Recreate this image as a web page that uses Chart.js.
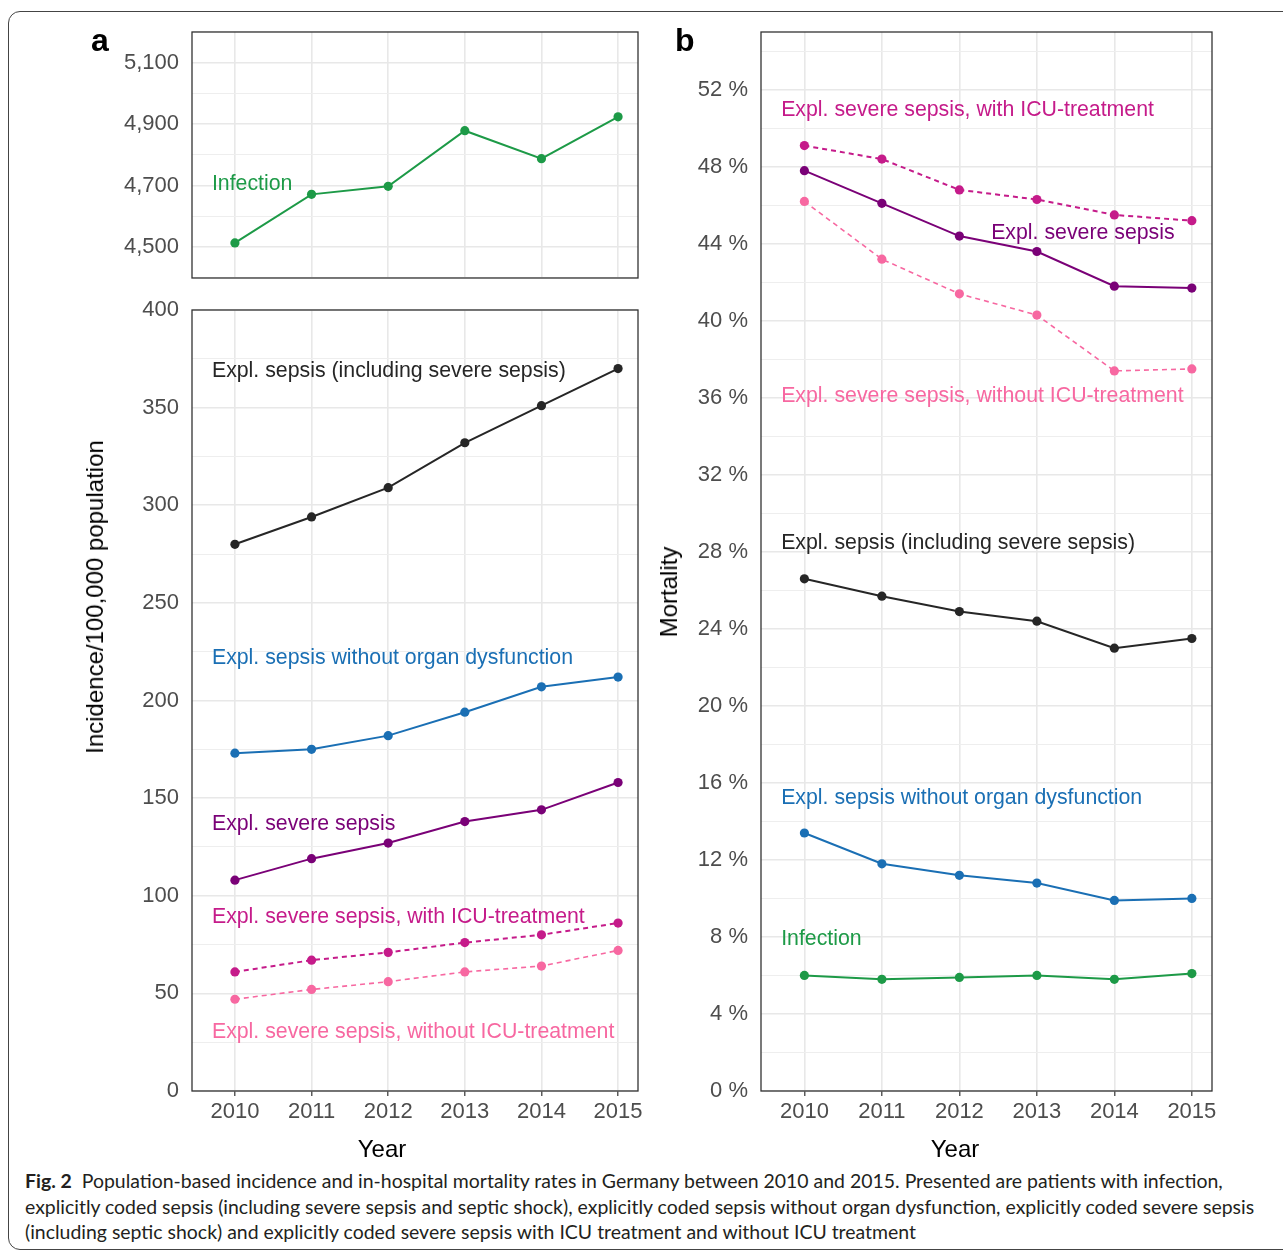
<!DOCTYPE html>
<html>
<head>
<meta charset="utf-8">
<script src="https://cdn.jsdelivr.net/npm/chart.js@4.4.0/dist/chart.umd.min.js"></script>
<style>
  body { margin: 0; background: #fff; width: 1283px; height: 1253px; overflow: hidden; position: relative;
         font-family: "Liberation Sans", Arial, sans-serif; }
  .frame { position: absolute; left: 8px; top: 11px; width: 1300px; height: 1239px; box-sizing: border-box;
           border: 1.4px solid #444; border-radius: 12px; }
  .box { position: absolute; }
  .txt { position: absolute; white-space: nowrap; }
  .title { font-size: 24px; color: #000; transform: translate(-50%, -50%); }
  .rot { font-size: 24px; color: #000; transform: translate(-50%, -50%) rotate(-90deg); }
  .panel { font-size: 32px; font-weight: bold; color: #000; }
  .cap { position: absolute; left: 25px; white-space: nowrap; font-family: Lato, "Noto Sans", sans-serif; color: #231f20; }
</style>
</head>
<body>
<div class="frame"></div>

<div class="box" style="left:100px;top:2px;width:560px;height:306px"><canvas id="chartA"></canvas></div>
<div class="box" style="left:100px;top:280px;width:560px;height:860px"><canvas id="chartB"></canvas></div>
<div class="box" style="left:660px;top:2px;width:623px;height:1138px"><canvas id="chartC"></canvas></div>

<div class="txt panel" style="left:91px;top:22px">a</div>
<div class="txt panel" style="left:675px;top:22px">b</div>
<div class="txt title" style="left:382px;top:1149px">Year</div>
<div class="txt title" style="left:955px;top:1149px">Year</div>
<div class="txt rot" style="left:95px;top:597px">Incidence/100,000 population</div>
<div class="txt rot" style="left:669px;top:592px">Mortality</div>

<div class="cap" id="cap1" style="top:1169px"><b>Fig. 2</b>&nbsp; Population-based incidence and in-hospital mortality rates in Germany between 2010 and 2015. Presented are patients with infection,</div>
<div class="cap" id="cap2" style="top:1195px">explicitly coded sepsis (including severe sepsis and septic shock), explicitly coded sepsis without organ dysfunction, explicitly coded severe sepsis</div>
<div class="cap" id="cap3" style="top:1220px">(including septic shock) and explicitly coded severe sepsis with ICU treatment and without ICU treatment</div>

<script>
const years = [2010, 2011, 2012, 2013, 2014, 2015];

// panel a, top: infection incidence per 100,000
const incInfection = [4514, 4672, 4698, 4879, 4788, 4924];
// panel a, bottom
const incSepsis = [280, 294, 309, 332, 351, 370];
const incNoOrgan = [173, 175, 182, 194, 207, 212];
const incSevere = [108, 119, 127, 138, 144, 158];
const incSevereIcu = [61, 67, 71, 76, 80, 86];
const incSevereNoIcu = [47, 52, 56, 61, 64, 72];
// panel b: in-hospital mortality (%)
const mortSevereIcu = [49.1, 48.4, 46.8, 46.3, 45.5, 45.2];
const mortSevere = [47.8, 46.1, 44.4, 43.6, 41.8, 41.7];
const mortSevereNoIcu = [46.2, 43.2, 41.4, 40.3, 37.4, 37.5];
const mortSepsis = [26.6, 25.7, 24.9, 24.4, 23.0, 23.5];
const mortNoOrgan = [13.4, 11.8, 11.2, 10.8, 9.9, 10.0];
const mortInfection = [6.0, 5.8, 5.9, 6.0, 5.8, 6.1];

const ticksA = [4500, 4700, 4900, 5100];
const ticksB = [0, 50, 100, 150, 200, 250, 300, 350, 400];
const ticksC = [0, 4, 8, 12, 16, 20, 24, 28, 32, 36, 40, 44, 48, 52];

const FONT = '"Liberation Sans", Arial, sans-serif';
const GREEN = '#1d9a47', BLACK = '#262626', BLUE = '#1a6fb4',
      PURPLE = '#7a0177', MAGENTA = '#c51b8a', PINK = '#f768a1';

function series(values, color, dashed, width) {
  return {
    data: values.map((v, i) => ({ x: years[i], y: v })),
    borderColor: color,
    backgroundColor: color,
    borderWidth: width || 2,
    borderDash: dashed ? [5, 4] : [],
    pointRadius: 4.6,
    pointBorderWidth: 0,
    pointBackgroundColor: color,
    tension: 0
  };
}

const framePlugin = {
  id: 'frame',
  afterDatasetsDraw(chart) {
    const { ctx, chartArea: a } = chart;
    ctx.save();
    ctx.strokeStyle = '#333';
    ctx.lineWidth = 1.3;
    ctx.strokeRect(a.left, a.top, a.width, a.height);
    ctx.restore();
  }
};

// text labels next to the lines, placed in data units
function tagPlugin(items) {
  return {
    id: 'tags',
    afterDatasetsDraw(chart) {
      const { ctx, scales: { x, y } } = chart;
      ctx.save();
      ctx.font = '21.3px ' + FONT;
      ctx.textAlign = 'left';
      ctx.textBaseline = 'alphabetic';
      items.forEach(t => {
        ctx.fillStyle = t.color;
        ctx.fillText(t.text, x.getPixelForValue(t.x), y.getPixelForValue(t.y) + 7.5);
      });
      ctx.restore();
    }
  };
}

function minors(major, min, max) {
  const step = major[1] - major[0];
  return major.map(v => v - step / 2).concat(major[major.length - 1] + step / 2)
    .filter(v => v >= min && v <= max);
}

function makeChart(id, cfg) {
  const all = cfg.ticks.concat(minors(cfg.ticks, cfg.min, cfg.max)).sort((a, b) => a - b);
  const isMajor = v => cfg.ticks.includes(v);
  return new Chart(id, {
    type: 'line',
    data: { datasets: cfg.datasets },
    options: {
      responsive: true,
      maintainAspectRatio: false,
      animation: false,
      layout: { padding: cfg.pad },
      plugins: { legend: { display: false }, tooltip: { enabled: false } },
      scales: {
        x: {
          type: 'linear', min: 2009.44, max: 2015.26,
          afterBuildTicks: s => { s.ticks = years.map(v => ({ value: v })); },
          afterFit: s => { s.height = cfg.xh; },
          border: { display: false },
          grid: { color: '#e8e8e8', lineWidth: 1.6, drawTicks: cfg.showX, tickLength: 5, tickColor: '#333', tickWidth: 1.2 },
          ticks: { display: cfg.showX, padding: 3, color: '#4d4d4d', autoSkip: false, maxRotation: 0,
                   font: { size: 22, family: FONT }, callback: v => String(v) }
        },
        y: {
          type: 'linear', min: cfg.min, max: cfg.max,
          afterBuildTicks: s => { s.ticks = all.map(v => ({ value: v })); },
          afterFit: s => { s.width = cfg.yw; },
          border: { display: false },
          grid: {
            drawTicks: false,
            color: c => isMajor(c.tick.value) ? '#e8e8e8' : '#eeeeee',
            lineWidth: c => isMajor(c.tick.value) ? 1.6 : 1.1
          },
          ticks: { padding: 13, color: '#4d4d4d', autoSkip: false, font: { size: 22, family: FONT },
                   callback: v => isMajor(v) ? cfg.fmt(v) : '' }
        }
      }
    },
    plugins: [framePlugin, tagPlugin(cfg.tags)]
  });
}

makeChart('chartA', {
  datasets: [series(incInfection, GREEN)],
  min: 4400, max: 5200, ticks: ticksA, fmt: v => v.toLocaleString('en-US'),
  pad: { left: 0, top: 30, right: 22, bottom: 30 }, yw: 92, xh: 0, showX: false,
  tags: [{ text: 'Infection', x: 2009.7, y: 4712, color: GREEN }]
});

makeChart('chartB', {
  datasets: [
    series(incSepsis, BLACK),
    series(incNoOrgan, BLUE),
    series(incSevere, PURPLE),
    series(incSevereIcu, MAGENTA, true),
    series(incSevereNoIcu, PINK, true, 1.6)
  ],
  min: 0, max: 400, ticks: ticksB, fmt: v => String(v),
  pad: { left: 0, top: 30, right: 22, bottom: 0 }, yw: 92, xh: 49, showX: true,
  tags: [
    { text: 'Expl. sepsis (including severe sepsis)', x: 2009.7, y: 369.3, color: BLACK },
    { text: 'Expl. sepsis without organ dysfunction', x: 2009.7, y: 222.3, color: BLUE },
    { text: 'Expl. severe sepsis', x: 2009.7, y: 137.3, color: PURPLE },
    { text: 'Expl. severe sepsis, with ICU-treatment', x: 2009.7, y: 90.1, color: MAGENTA },
    { text: 'Expl. severe sepsis, without ICU-treatment', x: 2009.7, y: 31.2, color: PINK }
  ]
});

makeChart('chartC', {
  datasets: [
    series(mortSepsis, BLACK),
    series(mortNoOrgan, BLUE),
    series(mortInfection, GREEN),
    series(mortSevere, PURPLE),
    series(mortSevereIcu, MAGENTA, true),
    series(mortSevereNoIcu, PINK, true, 1.6)
  ],
  min: 0, max: 55, ticks: ticksC, fmt: v => v + ' %',
  pad: { left: 0, top: 30, right: 71, bottom: 0 }, yw: 101, xh: 49, showX: true,
  tags: [
    { text: 'Expl. severe sepsis, with ICU-treatment', x: 2009.7, y: 51.05, color: MAGENTA },
    { text: 'Expl. severe sepsis', x: 2012.41, y: 44.66, color: PURPLE },
    { text: 'Expl. severe sepsis, without ICU-treatment', x: 2009.7, y: 36.15, color: PINK },
    { text: 'Expl. sepsis (including severe sepsis)', x: 2009.7, y: 28.56, color: BLACK },
    { text: 'Expl. sepsis without organ dysfunction', x: 2009.7, y: 15.32, color: BLUE },
    { text: 'Infection', x: 2009.7, y: 7.95, color: GREEN }
  ]
});

// size the caption so its second line spans the same width as in the figure
(function fitCaption() {
  const c = document.createElement('canvas').getContext('2d');
  c.font = '100px Lato, "Noto Sans", sans-serif';
  const w = c.measureText(document.getElementById('cap2').textContent).width;
  const size = 1232 / w * 100;
  ['cap1', 'cap2', 'cap3'].forEach(id => { document.getElementById(id).style.fontSize = size + 'px'; });
})();
</script>
</body>
</html>
